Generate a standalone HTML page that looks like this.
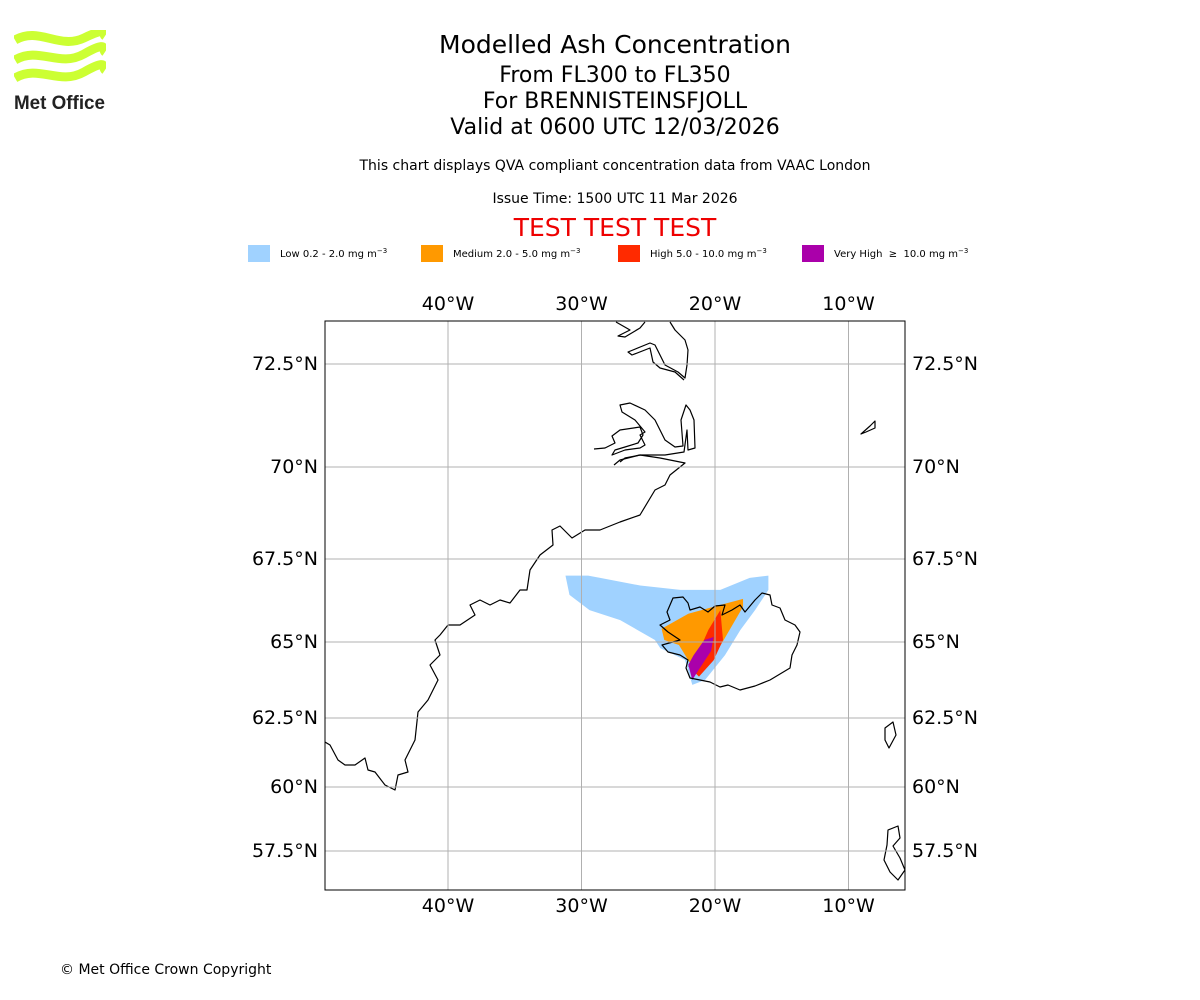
<!DOCTYPE html>
<html><head><meta charset="utf-8"><style>
body{margin:0;width:1200px;height:1000px;background:#fff;font-family:"DejaVu Sans","Liberation Sans",sans-serif;position:relative;overflow:hidden}
.t{position:absolute;left:0;width:1230px;text-align:center;color:#000}
.leg{position:absolute;top:245px;font-size:10px;display:flex;align-items:center}
.sw{width:22px;height:17px;margin-right:10px}
.leg sup{font-size:7px;vertical-align:4px}
</style></head><body>
<svg style="position:absolute;left:14px;top:30px" width="92" height="82">
<g fill="none" stroke="#ccff33" stroke-width="9">
<path d="M1 10 C25 -4,45 20,70 8 S88 4,91 6"/>
<path d="M1 30 C25 16,45 38,70 24 S88 20,91 22"/>
<path d="M1 48 C25 34,45 56,70 42 S88 38,91 40"/>
</g>
<text x="0" y="79" font-family="Liberation Sans,sans-serif" font-weight="bold" font-size="19" textLength="91" lengthAdjust="spacingAndGlyphs" fill="#222">Met Office</text>
</svg>
<div class="t" style="top:30px;font-size:25px">Modelled Ash Concentration</div>
<div class="t" style="top:63px;font-size:22px">From FL300 to FL350</div>
<div class="t" style="top:89px;font-size:22px">For BRENNISTEINSFJOLL</div>
<div class="t" style="top:115px;font-size:22px">Valid at 0600 UTC 12/03/2026</div>
<div class="t" style="top:158px;font-size:14px">This chart displays QVA compliant concentration data from VAAC London</div>
<div class="t" style="top:191px;font-size:14px">Issue Time: 1500 UTC 11 Mar 2026</div>
<div class="t" style="top:213px;font-size:25px;color:#e00">TEST TEST TEST</div>
<div class="leg" style="left:248px"><div class="sw" style="background:#a0d2ff"></div><span>Low 0.2 - 2.0 mg m<sup>−3</sup></span></div>
<div class="leg" style="left:421px"><div class="sw" style="background:#ff9900"></div><span>Medium 2.0 - 5.0 mg m<sup>−3</sup></span></div>
<div class="leg" style="left:618px"><div class="sw" style="background:#ff2a00"></div><span>High 5.0 - 10.0 mg m<sup>−3</sup></span></div>
<div class="leg" style="left:802px"><div class="sw" style="background:#aa00aa"></div><span>Very High &nbsp;≥&nbsp; 10.0 mg m<sup>−3</sup></span></div>
<svg id="map" style="position:absolute;left:0;top:0" width="1200" height="1000"></svg>
<div style="position:absolute;left:60px;top:962px;font-size:14px">© Met Office Crown Copyright</div>
<script>
const lonTicks=[-40,-30,-20,-10];
const latTicks=[72.5,70,67.5,65,62.5,60,57.5];
const latPx=[364,467,559,642,718,787,851];
const lowArea=[[-31.2,67.0],[-29.5,67.0],[-28.6,66.93],[-25.6,66.7],[-22.6,66.57],[-19.6,66.57],[-17.4,66.93],[-16.0,67.0],[-16.0,66.57],[-17.0,65.96],[-18.1,65.36],[-19.25,64.57],[-20.75,63.75],[-21.7,63.59],[-22.25,64.41],[-24.1,64.8],[-24.5,65.06],[-27.1,65.66],[-29.4,65.96],[-30.9,66.42]];
const medArea=[[-24.0,65.4],[-22.0,65.85],[-20.1,66.06],[-17.9,66.3],[-17.9,66.06],[-19.0,65.3],[-20.1,64.5],[-21.2,63.86],[-22.0,64.4],[-22.7,64.9],[-23.8,65.06]];
const highArea=[[-21.2,64.7],[-20.5,65.36],[-19.6,65.96],[-19.4,65.06],[-20.1,64.4],[-21.2,63.86],[-22.0,64.2]];
const vhArea=[[-21.6,64.57],[-20.8,65.06],[-20.1,65.15],[-20.3,64.7],[-21.2,64.1],[-21.7,63.75],[-22.0,64.25]];
const X0=325,X1=905,Y0=321,Y1=890;
function xs(lon){return 448+(lon+40)*13.35;}
function ys(lat){for(let i=0;i<latTicks.length-1;i++){if(lat<=latTicks[i]&&lat>=latTicks[i+1]||i==latTicks.length-2||(i==0&&lat>latTicks[0])){const t=(latTicks[i]-lat)/(latTicks[i]-latTicks[i+1]);return latPx[i]+t*(latPx[i+1]-latPx[i]);}}}
const NS="http://www.w3.org/2000/svg",svg=document.getElementById('map');
function mk(tag,attrs,parent){const e=document.createElementNS(NS,tag);for(const k in attrs)e.setAttribute(k,attrs[k]);(parent||svg).appendChild(e);return e;}
const g=mk('g',{'clip-path':'url(#c)'});
const cp=mk('clipPath',{id:'c'});mk('rect',{x:X0,y:Y0,width:X1-X0,height:Y1-Y0},cp);
function poly(arr,fill,name){const p=mk('polygon',{points:arr.map(a=>xs(a[0])+','+ys(a[1])).join(' '),fill:fill},g);

}
poly(lowArea,'#a0d2ff','ash-low');poly(medArea,'#ff9900','ash-medium');poly(highArea,'#ff2a00','ash-high');poly(vhArea,'#aa00aa','ash-very-high');
const coast=[
"M620 462 L625 458 L640 455 L660 458 L685 463 L670 475 L665 485 L655 490 L640 515 L620 522 L600 530 L585 530 L572 538 L560 526 L552 530 L553 545 L540 555 L530 570 L527 590 L520 590 L510 603 L500 600 L490 605 L480 600 L470 605 L475 615 L460 625 L448 625 L440 635 L435 640 L440 655 L430 665 L438 680 L428 700 L418 712 L415 740 L405 760 L408 772 L398 775 L395 790 L385 785 L375 772 L368 770 L365 758 L355 765 L345 765 L338 760 L330 745 L325 742",
"M616 322 L630 330 L618 336 L625 337 L640 328 L645 322",
"M670 322 L675 330 L685 340 L688 350 L687 365 L685 378 L678 372 L665 365 L655 345 L650 343 L628 352 L632 355 L650 348 L653 362 L660 368 L675 372 L684 380",
"M594 449 L605 448 L615 443 L612 436 L620 430 L640 427 L643 435 L638 443 L625 447 L615 450 L612 455 L625 450 L640 448 L645 445 L640 435 L645 432 L635 420 L622 412 L620 405 L630 403 L645 410 L655 420 L660 430 L665 440 L675 447 L683 446 L681 420 L686 405 L690 410 L694 420 L695 448 L688 450 L687 430 L684 452 L665 455 L640 455 L620 460 L614 465",
"M673 598 L683 597 L688 603 L690 610 L700 607 L708 612 L715 606 L725 605 L722 615 L732 610 L740 605 L745 612 L755 600 L762 593 L770 595 L772 605 L780 608 L785 620 L795 625 L800 632 L797 645 L792 655 L790 668 L770 680 L755 686 L740 690 L728 685 L720 687 L710 682 L700 680 L690 678 L686 668 L688 660 L680 655 L668 652 L662 645 L680 640 L668 632 L660 625 L670 620 L667 612 Z",
"M861 434 L870 426 L875 421 L875 428 L866 432 Z",
"M885 728 L893 722 L896 735 L889 748 L885 740 Z M888 830 L898 826 L900 838 L893 846 L900 858 L905 870 L898 880 L890 872 L884 860 L887 845 Z"];
coast.forEach((d,i)=>{const p=mk('path',{d:d,fill:'none',stroke:'#000','stroke-width':1.2,'stroke-linejoin':'round'},g);

});
lonTicks.forEach(lon=>{const x=xs(lon);
const l=mk('line',{x1:x,x2:x,y1:Y0,y2:Y1,stroke:'#b0b0b0','stroke-width':1});


[[310],[912]].forEach(([y])=>{const t=mk('text',{x:x,y:y,'text-anchor':'middle','font-size':19,'font-family':'DejaVu Sans,sans-serif'});t.textContent=(-lon)+'°W';

});});
latTicks.forEach(lat=>{const y=ys(lat);
const l=mk('line',{x1:X0,x2:X1,y1:y,y2:y,stroke:'#b0b0b0','stroke-width':1});


const a=mk('text',{x:318,y:y+6,'text-anchor':'end','font-size':19,'font-family':'DejaVu Sans,sans-serif'});a.textContent=lat+'°N';


const b=mk('text',{x:912,y:y+6,'text-anchor':'start','font-size':19,'font-family':'DejaVu Sans,sans-serif'});b.textContent=lat+'°N';

});
const fr=mk('rect',{x:X0,y:Y0,width:X1-X0,height:Y1-Y0,fill:'none',stroke:'#000','stroke-width':1});


</script>
</body></html>
